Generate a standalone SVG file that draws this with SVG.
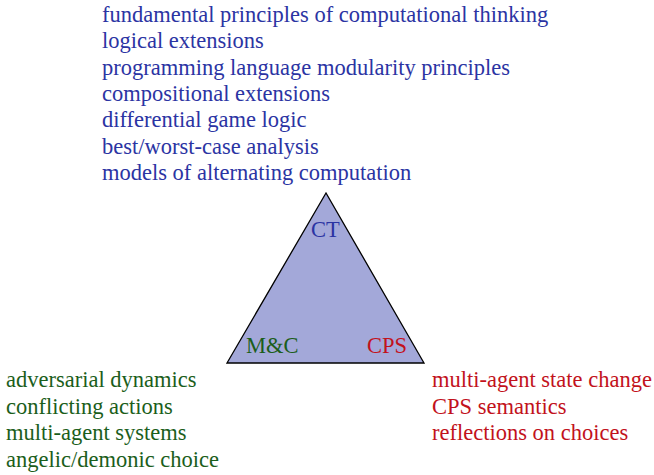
<svg xmlns="http://www.w3.org/2000/svg" width="654" height="475" viewBox="0 0 654 475">
<style>
text{font-family:"Liberation Serif","Times New Roman",serif;font-size:22.5px}
.b{fill:#2b34a3}.g{fill:#1b5e1b}.r{fill:#c2121c}
</style>
<rect width="654" height="475" fill="#fff"/>
<g id="triangle">
<polygon points="326,193 227,363 424,363" fill="#a3a8d9" stroke="#000" stroke-width="1.3"/>
</g>
<g id="connectors"/>
<g id="ct-node">
<text class="b" x="311" y="237">CT</text>
</g>
<g id="mc-node">
<text class="g" x="246" y="353">M&amp;C</text>
</g>
<g id="cps-node">
<text class="r" x="367" y="353">CPS</text>
</g>
<g id="ct-list">
<text class="b" x="102" y="22">fundamental principles of computational thinking</text>
<text class="b" x="102" y="48.3">logical extensions</text>
<text class="b" x="102" y="74.7">programming language modularity principles</text>
<text class="b" x="102" y="101">compositional extensions</text>
<text class="b" x="102" y="127.3">differential game logic</text>
<text class="b" x="102" y="153.7">best/worst-case analysis</text>
<text class="b" x="102" y="180">models of alternating computation</text>
</g>
<g id="mc-list">
<text class="g" x="6" y="387">adversarial dynamics</text>
<text class="g" x="6" y="413.5">conflicting actions</text>
<text class="g" x="6" y="440">multi-agent systems</text>
<text class="g" x="6" y="466.5">angelic/demonic choice</text>
</g>
<g id="cps-list">
<text class="r" x="432" y="387">multi-agent state change</text>
<text class="r" x="432" y="413.5">CPS semantics</text>
<text class="r" x="432" y="440">reflections on choices</text>
</g>
</svg>
